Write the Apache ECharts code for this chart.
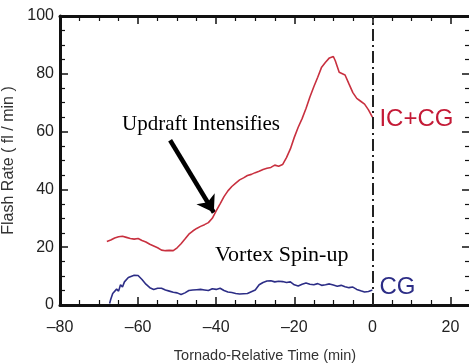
<!DOCTYPE html>
<html><head><meta charset="utf-8">
<script src="https://cdn.jsdelivr.net/npm/echarts@6/dist/echarts.min.js"></script>
<style>html,body{margin:0;padding:0;background:#fff}#c{width:469px;height:363px}</style>
</head><body><div id="c"></div>
<script>
// IC+CG total flash rate (fl/min) vs tornado-relative time (min)
const totalTime = [-68,-67,-66,-65,-64,-63,-62,-61,-60,-59,-58,-57,-56,-55,-54,-53,-52,-51,-50,-49,-48,-47,-46,-45,-44,-43,-42,-41,-40,-39,-38,-37,-36,-35,-34,-33,-32,-31,-30,-29,-28,-27,-26,-25,-24,-23,-22,-21,-20,-19,-18,-17,-16,-15,-14,-13,-12,-11,-10,-9.5,-9,-8.5,-8,-7,-6,-5,-4,-3,-2,-1,0];
const totalRate = [22,22.5,23.2,23.6,23.8,23.4,23.0,22.8,23.0,22.3,21.8,21.0,20.4,19.8,19.0,18.8,18.9,18.8,19.8,21.2,22.8,24.5,25.6,26.5,27.2,27.8,28.5,30.0,32.6,35.0,37.5,39.5,41.0,42.2,43.3,44.0,44.8,45.2,45.8,46.3,46.9,47.3,47.6,48.4,48.0,48.6,51.0,54.0,58.0,61.5,64.5,68.0,72.0,75.5,78.8,82.3,84.0,85.5,86.0,84.5,82.5,80.5,80.8,79.6,76.5,73.5,71.5,70.5,69.5,67.5,65.0];
// CG flash rate
const cgTime = [-67.3,-67,-66.5,-66,-65.5,-65,-64.5,-64,-63.5,-63,-62.5,-62,-61,-60,-59,-58,-57,-56,-55,-54,-53,-52,-51,-50,-49,-48,-47,-46,-45,-44,-43,-42,-41,-40,-39,-38,-37,-36,-35,-34,-33,-32,-31,-30,-29,-28,-27,-26,-25,-24,-23,-22,-21,-20,-19,-18,-17,-16,-15,-14,-13,-12,-11,-10,-9,-8,-7,-6,-5,-4,-3,-2,-1,0];
const cgRate = [0.5,2,4,3.5,5.5,4.8,7,6.2,8,7.6,9.5,9.8,10.3,10.2,8.8,7.2,6.0,5.4,5.8,5.8,5.2,4.8,4.4,4.2,3.6,4.2,5.0,5.2,5.3,5.4,5.2,5.0,5.6,5.4,5.8,5.0,4.5,4.3,4.0,3.8,3.9,4.0,4.6,5.2,7.0,7.8,8.3,8.4,8.0,8.2,8.1,7.8,8.0,7.0,6.6,7.2,7.6,7.2,7.0,7.4,6.8,7.0,7.3,6.9,6.5,6.8,6.3,6.0,6.2,5.4,4.9,4.5,4.7,5.2];
const xTicks = [-80,-60,-40,-20,0,20];
const yTicks = [0,20,40,60,80,100];
const tornadoTime = 0;
const arrowFrom = [-51.8,57.0];
const arrowTo = [-40.6,32.0];

const zip = (a,b)=>a.map((v,i)=>[v,b[i]]);
const chart = echarts.init(document.getElementById('c'));
const sans = 'Liberation Sans, Arial, Helvetica, sans-serif';
const serif = 'Liberation Serif, Times New Roman, serif';
const frameAxis = (extra)=>Object.assign({
  axisLine:{show:true,onZero:false,lineStyle:{color:'#111',width:3}},
  axisTick:{show:true,inside:true,length:8,lineStyle:{color:'#111',width:1.5}},
  minorTick:{show:true,splitNumber:4,length:5,lineStyle:{color:'#111',width:1.2}},
  splitLine:{show:false}
},extra);
chart.setOption({
  animation:false,
  backgroundColor:'#fff',
  grid:{left:60,top:16,width:410,height:289,containLabel:false,outerBoundsMode:'none'},
  xAxis:[
    frameAxis({type:'value',min:-80,max:25,interval:20,position:'bottom',
      name:'Tornado-Relative Time (min)',nameLocation:'middle',nameGap:43,
      nameTextStyle:{fontFamily:sans,fontSize:14.5,color:'#333'},
      axisLabel:{fontFamily:sans,fontSize:16,color:'#222',margin:15,showMaxLabel:false,
        formatter:v=>xTicks.includes(v)?String(v).replace('-','\u2013'):''}}),
    frameAxis({type:'value',min:-80,max:25,interval:20,position:'top',axisLabel:{show:false}})
  ],
  yAxis:[
    frameAxis({type:'value',min:0,max:100,interval:20,position:'left',
      name:'Flash Rate ( fl / min )',nameLocation:'middle',nameGap:34,
      nameTextStyle:{fontFamily:sans,fontSize:16,color:'#333'},
      axisLabel:{fontFamily:sans,fontSize:16,color:'#222',margin:6,
        formatter:v=>yTicks.includes(v)?String(v):''}}),
    frameAxis({type:'value',min:0,max:100,interval:20,position:'right',axisLabel:{show:false}})
  ],
  series:[
    {type:'line',name:'IC+CG',data:zip(totalTime,totalRate),showSymbol:false,smooth:false,
      lineStyle:{color:'#c8303f',width:1.6},itemStyle:{color:'#c8303f'},
      endLabel:{show:true,formatter:'IC+CG',distance:7,fontFamily:sans,fontSize:24,color:'#c41a36',offset:[0,2]},
      markLine:{silent:true,symbol:'none',label:{show:false},
        lineStyle:{color:'#222',width:2,type:[12,4,2,4]},data:[{xAxis:tornadoTime}]}},
    {type:'line',name:'CG',data:zip(cgTime,cgRate),showSymbol:false,
      lineStyle:{color:'#2c2d86',width:1.6},itemStyle:{color:'#2c2d86'},
      endLabel:{show:true,formatter:'CG',distance:7,fontFamily:sans,fontSize:24,color:'#2c2d86',offset:[0,-3]}},
    {type:'lines',coordinateSystem:'cartesian2d',polyline:false,
      symbol:['none','arrow'],symbolSize:[0,16],
      lineStyle:{color:'#000',width:4.5,opacity:1,curveness:0},
      data:[{coords:[arrowFrom,arrowTo]}]}
  ],
  graphic:[
    {type:'text',left:122,top:114,style:{text:'Updraft Intensifies',fontFamily:serif,fontSize:21,fill:'#000'}},
    {type:'text',left:215,top:244,style:{text:'Vortex Spin-up',fontFamily:serif,fontSize:22,fill:'#000'}}
  ]
});
</script></body></html>
